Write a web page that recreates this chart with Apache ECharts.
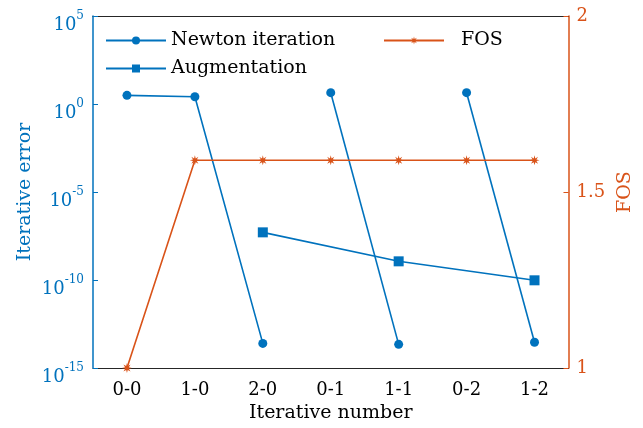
<!DOCTYPE html>
<html>
<head>
<meta charset="utf-8">
<script src="https://cdn.jsdelivr.net/npm/echarts@6/dist/echarts.min.js"></script>
<style>
  html, body { margin: 0; padding: 0; background: #fff; }
  #chart { width: 643px; height: 428px; }
</style>
</head>
<body>
<div id="chart"></div>
<script>
const categories = ['0-0', '1-0', '2-0', '0-1', '1-1', '0-2', '1-2'];

// Newton iteration, drawn as three separate runs
const newton1 = [3.1, 2.6, 2.5e-14, '-', '-', '-', '-'];
const newton2 = ['-', '-', '-', 4.4, 2.2e-14, '-', '-'];
const newton3 = ['-', '-', '-', '-', '-', 4.4, 2.9e-14];

const augmentation = ['-', '-', 5.1e-8, '-', 1.15e-9, '-', 9.6e-11];
const fos = [1, 1.59, 1.59, 1.59, 1.59, 1.59, 1.59];

const BLUE = '#0072BD';
const ORANGE = '#D95319';
const FONT = 'DejaVu Serif';

const asterisk = 'path://M0,-5 L0.8,-1.9 L3.54,-3.54 L1.9,-0.8 L5,0 L1.9,0.8 L3.54,3.54 L0.8,1.9 L0,5 L-0.8,1.9 L-3.54,3.54 L-1.9,0.8 L-5,0 L-1.9,-0.8 L-3.54,-3.54 L-0.8,-1.9 Z';

const chart = echarts.init(document.getElementById('chart'));

function newtonSeries(data) {
    return {
        name: 'Newton iteration',
        type: 'line',
        data: data,
        yAxisIndex: 0,
        symbol: 'circle',
        symbolSize: 9,
        showAllSymbol: true,
        lineStyle: { color: BLUE, width: 1.6 },
        itemStyle: { color: BLUE }
    };
}

var option = {
    animation: false,
    grid: { left: 93, right: 73, top: 16, bottom: 60 },
    legend: [{
        data: ['Newton iteration', 'Augmentation'],
        orient: 'vertical',
        left: 100,
        top: 26,
        itemWidth: 60,
        itemHeight: 10,
        itemGap: 9,
        textStyle: { fontFamily: FONT, fontSize: 19, color: '#000' }
    }, {
        data: ['FOS'],
        orient: 'vertical',
        left: 378,
        top: 26,
        itemWidth: 60,
        itemHeight: 10,
        textStyle: { fontFamily: FONT, fontSize: 19, color: '#000', padding: [0, 0, 0, 12] }
    }],
    xAxis: [{
        type: 'category',
        data: categories,
        position: 'bottom',
        name: 'Iterative number',
        nameLocation: 'middle',
        nameGap: 35,
        nameTextStyle: { fontFamily: FONT, fontSize: 19, color: '#000' },
        axisLine: { lineStyle: { color: '#262626', width: 1 } },
        axisTick: { inside: true, alignWithLabel: true, length: 5, lineStyle: { color: '#262626' } },
        axisLabel: { fontFamily: FONT, fontSize: 18, color: '#000', margin: 13 },
        splitLine: { show: false }
    }, {
        type: 'category',
        data: categories,
        position: 'top',
        axisLine: { lineStyle: { color: '#262626', width: 1 } },
        axisTick: { inside: true, alignWithLabel: true, length: 5, lineStyle: { color: '#262626' } },
        axisLabel: { show: false },
        splitLine: { show: false }
    }],
    yAxis: [{
        type: 'log',
        logBase: 10,
        min: 1e-15,
        max: 1e5,
        interval: 5,
        position: 'left',
        name: 'Iterative error',
        nameLocation: 'middle',
        nameGap: 58,
        nameMoveOverlap: false,
        nameRotate: 90,
        nameTextStyle: { fontFamily: FONT, fontSize: 19, color: BLUE },
        axisLine: { show: true, lineStyle: { color: BLUE, width: 1.5 } },
        axisTick: { show: true, inside: true, length: 5, lineStyle: { color: BLUE } },
        axisLabel: {
            margin: 9,
            padding: [12, 0, 0, 0],
            formatter: function (v) {
                const e = Math.round(Math.log10(v));
                return '{b|10}{s|' + e + '}';
            },
            rich: {
                b: { fontFamily: FONT, fontSize: 18, color: BLUE, lineHeight: 24, verticalAlign: 'bottom' },
                s: { fontFamily: FONT, fontSize: 12, color: BLUE, lineHeight: 24, verticalAlign: 'top' }
            }
        },
        splitLine: { show: false }
    }, {
        type: 'value',
        min: 1,
        max: 2,
        interval: 0.5,
        position: 'right',
        name: 'FOS',
        nameLocation: 'middle',
        nameGap: 42,
        nameRotate: 90,
        nameTextStyle: { fontFamily: FONT, fontSize: 19, color: ORANGE },
        axisLine: { show: true, lineStyle: { color: ORANGE, width: 1.5 } },
        axisTick: { show: true, inside: true, length: 5, lineStyle: { color: ORANGE } },
        axisLabel: { fontFamily: FONT, fontSize: 18, color: ORANGE, margin: 8 },
        splitLine: { show: false }
    }],
    series: [
        newtonSeries(newton1),
        newtonSeries(newton2),
        newtonSeries(newton3),
        {
            name: 'Augmentation',
            type: 'line',
            data: augmentation,
            yAxisIndex: 0,
            connectNulls: true,
            symbol: 'rect',
            symbolSize: 10,
            showAllSymbol: true,
            lineStyle: { color: BLUE, width: 1.6 },
            itemStyle: { color: BLUE }
        },
        {
            name: 'FOS',
            type: 'line',
            data: fos,
            yAxisIndex: 1,
            symbol: asterisk,
            symbolSize: 10,
            showAllSymbol: true,
            lineStyle: { color: ORANGE, width: 1.6 },
            itemStyle: { color: ORANGE }
        }
    ]
};

chart.setOption(option);
</script>
</body>
</html>
